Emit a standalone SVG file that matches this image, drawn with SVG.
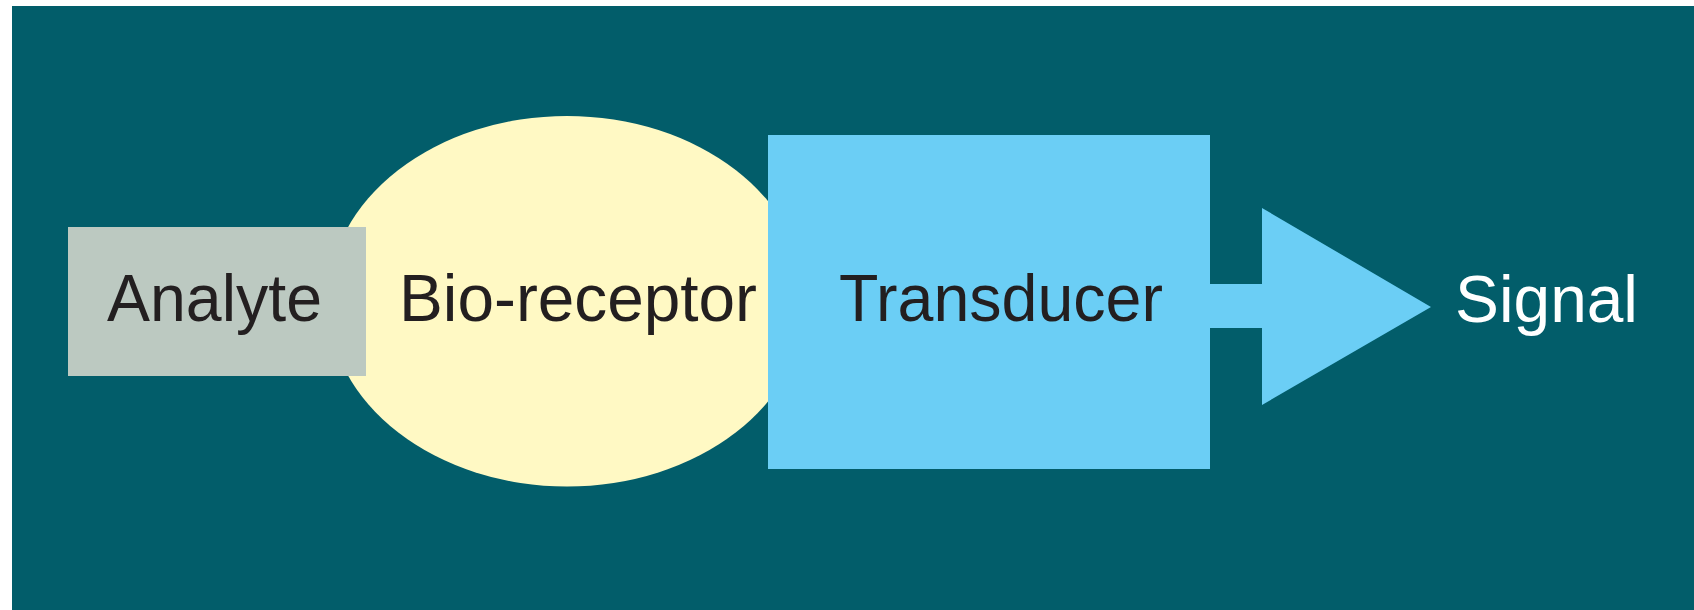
<svg xmlns="http://www.w3.org/2000/svg" width="1694" height="610" viewBox="0 0 1694 610">
<style>
.lbl{font-family:"Liberation Sans",Arial,sans-serif;font-size:66px;fill:#231f20}
.wht{fill:#ffffff}
</style>
<rect x="0" y="0" width="1694" height="610" fill="#ffffff"/>
<rect x="12" y="6" width="1682" height="604" fill="#025d6a"/>
<g id="bioreceptor">
<ellipse cx="567" cy="301.3" rx="239" ry="185.3" fill="#fff9c4"/>
<text class="lbl" x="399" y="321" textLength="358" lengthAdjust="spacingAndGlyphs">Bio-receptor</text>
</g>
<g id="analyte">
<rect x="68" y="227" width="298" height="149" fill="#bcc9c1"/>
<text class="lbl" x="107" y="321" textLength="215" lengthAdjust="spacingAndGlyphs">Analyte</text>
</g>
<g id="transducer">
<rect x="768" y="135" width="442" height="334" fill="#6bcef5"/>
<text class="lbl" x="839" y="321" textLength="324" lengthAdjust="spacingAndGlyphs">Transducer</text>
</g>
<g id="connectors">
<polygon points="1209,284 1262,284 1262,208 1431,307 1262,405 1262,328 1209,328" fill="#6bcef5"/>
</g>
<g id="signal">
<text class="lbl wht" x="1455" y="322" textLength="183" lengthAdjust="spacingAndGlyphs">Signal</text>
</g>
</svg>
